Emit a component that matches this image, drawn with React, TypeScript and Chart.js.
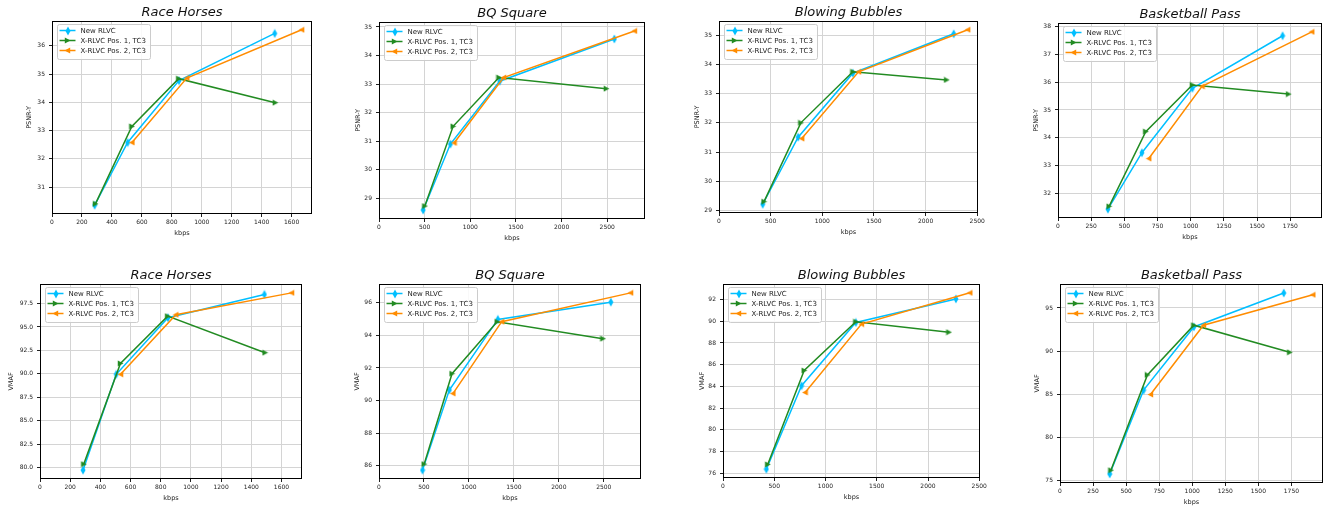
import React, { useEffect, useRef } from "react";
import { Chart, registerables } from "chart.js";

Chart.register(...registerables);

// ---------- data ----------
const SERIES_NAMES = ["New RLVC", "X-RLVC Pos. 1, TC3", "X-RLVC Pos. 2, TC3"];
const SEQUENCES = ["Race Horses", "BQ Square", "Blowing Bubbles", "Basketball Pass"];
const METRICS = ["PSNR-Y", "VMAF"];

// Race Horses
const raceNewKbps = [285, 505, 848, 1487];
const raceNewPsnr = [30.36, 32.58, 34.77, 36.44];
const raceNewVmaf = [79.75, 89.95, 95.98, 98.46];
const racePos1Kbps = [290, 533, 846, 1491];
const racePos1Psnr = [30.41, 33.15, 34.84, 33.99];
const racePos1Vmaf = [80.39, 91.12, 96.15, 92.26];
const racePos2Kbps = [534, 900, 1667];
const racePos2Psnr = [32.58, 34.86, 36.57];
const racePos2Vmaf = [89.95, 96.3, 98.63];

// BQ Square
const bqNewKbps = [484, 782, 1322, 2578];
const bqNewPsnr = [28.59, 30.9, 33.1, 34.58];
const bqNewVmaf = [85.73, 90.65, 94.98, 96.04];
const bqPos1Kbps = [502, 812, 1314, 2490];
const bqPos1Psnr = [28.73, 31.52, 33.23, 32.84];
const bqPos1Vmaf = [86.1, 91.65, 94.84, 93.8];
const bqPos2Kbps = [822, 1365, 2798];
const bqPos2Psnr = [30.94, 33.23, 34.86];
const bqPos2Vmaf = [90.43, 94.84, 96.61];

// Blowing Bubbles
const bubNewKbps = [423, 766, 1296, 2272];
const bubNewPsnr = [29.21, 31.51, 33.7, 35.05];
const bubNewVmaf = [76.37, 84.06, 89.89, 92.06];
const bubPos1Kbps = [436, 792, 1296, 2204];
const bubPos1Psnr = [29.3, 32.0, 33.75, 33.47];
const bubPos1Vmaf = [76.81, 85.46, 89.95, 88.99];
const bubPos2Kbps = [801, 1351, 2408];
const bubPos2Psnr = [31.46, 33.75, 35.19];
const bubPos2Vmaf = [83.44, 89.74, 92.62];

// Basketball Pass
const basNewKbps = [376, 632, 1012, 1692];
const basNewPsnr = [31.43, 33.46, 35.78, 37.67];
const basNewVmaf = [75.75, 85.47, 92.8, 96.73];
const basPos1Kbps = [385, 661, 1012, 1737];
const basPos1Psnr = [31.53, 34.22, 35.9, 35.57];
const basPos1Vmaf = [76.18, 87.24, 93.0, 89.86];
const basPos2Kbps = [684, 1085, 1912];
const basPos2Psnr = [33.25, 35.85, 37.81];
const basPos2Vmaf = [84.96, 93.0, 96.53];

// tick labels
const kbpsTicks200 = [0, 200, 400, 600, 800, 1000, 1200, 1400, 1600];
const kbpsTicks500 = [0, 500, 1000, 1500, 2000, 2500];
const kbpsTicks250 = [0, 250, 500, 750, 1000, 1250, 1500, 1750];
const psnrTicksRace = [31, 32, 33, 34, 35, 36];
const psnrTicksBq = [29, 30, 31, 32, 33, 34, 35];
const psnrTicksBub = [29, 30, 31, 32, 33, 34, 35];
const psnrTicksBas = [32, 33, 34, 35, 36, 37, 38];
const vmafTicksRace = [80, 82.5, 85, 87.5, 90, 92.5, 95, 97.5];
const vmafTicksBq = [86, 88, 90, 92, 94, 96];
const vmafTicksBub = [76, 78, 80, 82, 84, 86, 88, 90, 92];
const vmafTicksBas = [75, 80, 85, 90, 95];

// ---------- layout / style ----------
const W = 1330;
const H = 506;
const COL_X = [0, 332, 665, 998, 1330];
const ROW_Y = [0, 253, 506];
// plot areas in page pixels: left, top, right, bottom, distance of y-title from left edge
const AREAS = [
  [52, 21, 312, 214, 23],
  [379, 22, 645, 219, 21],
  [719, 21, 978, 213, 22],
  [1058, 23, 1322, 218, 22],
  [40, 284, 302, 479, 29],
  [379, 284, 641, 479, 22],
  [723, 284, 980, 478, 21],
  [1060, 284, 1323, 483, 23],
];
const COLORS = ["#00bfff", "#228b22", "#ff8c00"];
const FONT = '"DejaVu Sans", "Liberation Sans", sans-serif';

type Panel = {
  title: string;
  metric: string;
  series: { x: number[]; y: number[] }[];
  xTicks: number[];
  yTicks: number[];
  yDecimals: number;
};

const PANELS: Panel[] = [
  {
    title: SEQUENCES[0], metric: METRICS[0], xTicks: kbpsTicks200, yTicks: psnrTicksRace, yDecimals: 0,
    series: [{ x: raceNewKbps, y: raceNewPsnr }, { x: racePos1Kbps, y: racePos1Psnr }, { x: racePos2Kbps, y: racePos2Psnr }],
  },
  {
    title: SEQUENCES[1], metric: METRICS[0], xTicks: kbpsTicks500, yTicks: psnrTicksBq, yDecimals: 0,
    series: [{ x: bqNewKbps, y: bqNewPsnr }, { x: bqPos1Kbps, y: bqPos1Psnr }, { x: bqPos2Kbps, y: bqPos2Psnr }],
  },
  {
    title: SEQUENCES[2], metric: METRICS[0], xTicks: kbpsTicks500, yTicks: psnrTicksBub, yDecimals: 0,
    series: [{ x: bubNewKbps, y: bubNewPsnr }, { x: bubPos1Kbps, y: bubPos1Psnr }, { x: bubPos2Kbps, y: bubPos2Psnr }],
  },
  {
    title: SEQUENCES[3], metric: METRICS[0], xTicks: kbpsTicks250, yTicks: psnrTicksBas, yDecimals: 0,
    series: [{ x: basNewKbps, y: basNewPsnr }, { x: basPos1Kbps, y: basPos1Psnr }, { x: basPos2Kbps, y: basPos2Psnr }],
  },
  {
    title: SEQUENCES[0], metric: METRICS[1], xTicks: kbpsTicks200, yTicks: vmafTicksRace, yDecimals: 1,
    series: [{ x: raceNewKbps, y: raceNewVmaf }, { x: racePos1Kbps, y: racePos1Vmaf }, { x: racePos2Kbps, y: racePos2Vmaf }],
  },
  {
    title: SEQUENCES[1], metric: METRICS[1], xTicks: kbpsTicks500, yTicks: vmafTicksBq, yDecimals: 0,
    series: [{ x: bqNewKbps, y: bqNewVmaf }, { x: bqPos1Kbps, y: bqPos1Vmaf }, { x: bqPos2Kbps, y: bqPos2Vmaf }],
  },
  {
    title: SEQUENCES[2], metric: METRICS[1], xTicks: kbpsTicks500, yTicks: vmafTicksBub, yDecimals: 0,
    series: [{ x: bubNewKbps, y: bubNewVmaf }, { x: bubPos1Kbps, y: bubPos1Vmaf }, { x: bubPos2Kbps, y: bubPos2Vmaf }],
  },
  {
    title: SEQUENCES[3], metric: METRICS[1], xTicks: kbpsTicks250, yTicks: vmafTicksBas, yDecimals: 0,
    series: [{ x: basNewKbps, y: basNewVmaf }, { x: basPos1Kbps, y: basPos1Vmaf }, { x: basPos2Kbps, y: basPos2Vmaf }],
  },
];

// ---------- markers ----------
function makeMarker(kind: string, color: string): HTMLCanvasElement {
  const c = document.createElement("canvas");
  if (kind === "diamond") {
    c.width = 6; c.height = 10;
  } else {
    c.width = 7; c.height = 7;
  }
  const ctx = c.getContext("2d")!;
  ctx.fillStyle = color;
  ctx.beginPath();
  if (kind === "diamond") {
    ctx.moveTo(3, 0.5); ctx.lineTo(5.5, 5); ctx.lineTo(3, 9.5); ctx.lineTo(0.5, 5);
  } else if (kind === "right") {
    ctx.moveTo(0.8, 0.5); ctx.lineTo(6.5, 3.5); ctx.lineTo(0.8, 6.5);
  } else {
    ctx.moveTo(6.2, 0.5); ctx.lineTo(0.5, 3.5); ctx.lineTo(6.2, 6.5);
  }
  ctx.closePath();
  ctx.fill();
  return c;
}

// ---------- plugin: frame, title, legend ----------
const decorPlugin = {
  id: "decor",
  afterDraw(chart: any, _args: any, opts: any) {
    const { ctx, chartArea: a } = chart;
    ctx.save();
    // axes frame
    ctx.strokeStyle = "#000";
    ctx.lineWidth = 1;
    ctx.strokeRect(Math.round(a.left) + 0.5, Math.round(a.top) + 0.5, Math.round(a.right - a.left) - 1, Math.round(a.bottom - a.top) - 1);
    // title
    ctx.fillStyle = "#111";
    ctx.font = `italic 13px ${FONT}`;
    ctx.textAlign = "center";
    ctx.textBaseline = "alphabetic";
    ctx.fillText(opts.title, (a.left + a.right) / 2, a.top - 5);
    // legend
    ctx.font = `7px ${FONT}`;
    const names: string[] = opts.names;
    const markers: HTMLCanvasElement[] = opts.markers;
    let maxW = 0;
    names.forEach((n) => (maxW = Math.max(maxW, ctx.measureText(n).width)));
    const x0 = Math.round(a.left) + 5.5;
    const y0 = Math.round(a.top) + 3.5;
    const bw = Math.round(24 + maxW + 4);
    const bh = 35;
    ctx.beginPath();
    if (ctx.roundRect) ctx.roundRect(x0, y0, bw, bh, 2);
    else ctx.rect(x0, y0, bw, bh);
    ctx.fillStyle = "rgba(255,255,255,0.85)";
    ctx.fill();
    ctx.strokeStyle = "#cccccc";
    ctx.lineWidth = 1;
    ctx.stroke();
    names.forEach((n, i) => {
      const y = y0 + 6 + i * 10;
      ctx.strokeStyle = opts.colors[i];
      ctx.lineWidth = 1.5;
      ctx.beginPath();
      ctx.moveTo(x0 + 2, y);
      ctx.lineTo(x0 + 18, y);
      ctx.stroke();
      const m = markers[i];
      ctx.drawImage(m, Math.round(x0 + 10 - m.width / 2), Math.round(y - m.height / 2));
      ctx.fillStyle = "#222";
      ctx.textAlign = "left";
      ctx.textBaseline = "middle";
      ctx.fillText(n, x0 + 23, y + 0.5);
    });
    ctx.restore();
  },
};

function PanelChart({ idx }: { idx: number }) {
  const ref = useRef<HTMLCanvasElement | null>(null);
  const panel = PANELS[idx];
  const col = idx % 4;
  const row = Math.floor(idx / 4);
  const cx = COL_X[col];
  const cy = ROW_Y[row];
  const cw = COL_X[col + 1] - cx;
  const ch = ROW_Y[row + 1] - cy;
  const [L, T, R, B, yOff] = AREAS[idx];

  useEffect(() => {
    if (!ref.current) return;
    const markers = [makeMarker("diamond", COLORS[0]), makeMarker("right", COLORS[1]), makeMarker("left", COLORS[2])];
    const allX = panel.series.flatMap((s) => s.x);
    const allY = panel.series.flatMap((s) => s.y);
    const xLo = Math.min(...allX), xHi = Math.max(...allX);
    const yLo = Math.min(...allY), yHi = Math.max(...allY);
    const xMax = xHi + 0.05 * (xHi - xLo);
    const yPad = 0.05 * (yHi - yLo);

    const yScaleW = yOff + 4;
    const xScaleH = 23;
    const padLeft = L - cx - yScaleW;
    const padTop = T - cy;
    const padRight = cx + cw - R;
    const padBottom = cy + ch - B - xScaleH;

    const datasets = panel.series.map((s, i) => ({
      label: SERIES_NAMES[i],
      data: s.x.map((x, j) => ({ x, y: s.y[j] })),
      borderColor: COLORS[i],
      backgroundColor: COLORS[i],
      borderWidth: 1.5,
      pointStyle: markers[i] as any,
      pointRadius: 4,
      tension: 0,
      order: 2 - i,
    }));

    const tickFont = { family: FONT, size: 6 };
    const chart = new Chart(ref.current, {
      type: "line",
      data: { datasets },
      options: {
        animation: false,
        responsive: false,
        maintainAspectRatio: false,
        devicePixelRatio: 1,
        layout: { padding: { left: padLeft, top: padTop, right: padRight, bottom: padBottom } },
        plugins: {
          legend: { display: false },
          tooltip: { enabled: false },
          title: { display: false },
          decor: { title: panel.title, names: SERIES_NAMES, colors: COLORS, markers },
        } as any,
        scales: {
          x: {
            type: "linear",
            min: 0,
            max: xMax,
            afterBuildTicks: (s: any) => {
              s.ticks = panel.xTicks.map((v) => ({ value: v }));
            },
            afterFit: (s: any) => {
              s.height = xScaleH;
            },
            ticks: {
              font: tickFont,
              color: "#222",
              padding: 2,
              maxRotation: 0,
              autoSkip: false,
              callback: (v: any) => String(Math.round(Number(v))),
            },
            grid: { color: "#d4d4d4", lineWidth: 1, tickColor: "#222", tickLength: 3 },
            border: { display: false },
            title: { display: true, text: "kbps", font: { family: FONT, size: 6.5 }, color: "#222", padding: 0 },
          },
          y: {
            type: "linear",
            min: yLo - yPad,
            max: yHi + yPad,
            afterBuildTicks: (s: any) => {
              s.ticks = panel.yTicks.map((v) => ({ value: v }));
            },
            afterFit: (s: any) => {
              s.width = yScaleW;
            },
            ticks: {
              font: tickFont,
              color: "#222",
              padding: 4,
              autoSkip: false,
              callback: (v: any) => Number(v).toFixed(panel.yDecimals),
            },
            grid: { color: "#d4d4d4", lineWidth: 1, tickColor: "#222", tickLength: 3 },
            border: { display: false },
            title: { display: true, text: panel.metric, font: { family: FONT, size: 6.5 }, color: "#222", padding: 0 },
          },
        },
      },
      plugins: [decorPlugin as any],
    });
    return () => chart.destroy();
  }, [idx]);

  return (
    <canvas
      ref={ref}
      width={cw}
      height={ch}
      style={{ position: "absolute", left: cx, top: cy, width: cw, height: ch, display: "block" }}
    />
  );
}

export default function App() {
  return (
    <div style={{ position: "fixed", left: 0, top: 0, width: W, height: H, background: "#fff", overflow: "hidden" }}>
      {PANELS.map((_, i) => (
        <PanelChart key={i} idx={i} />
      ))}
    </div>
  );
}
